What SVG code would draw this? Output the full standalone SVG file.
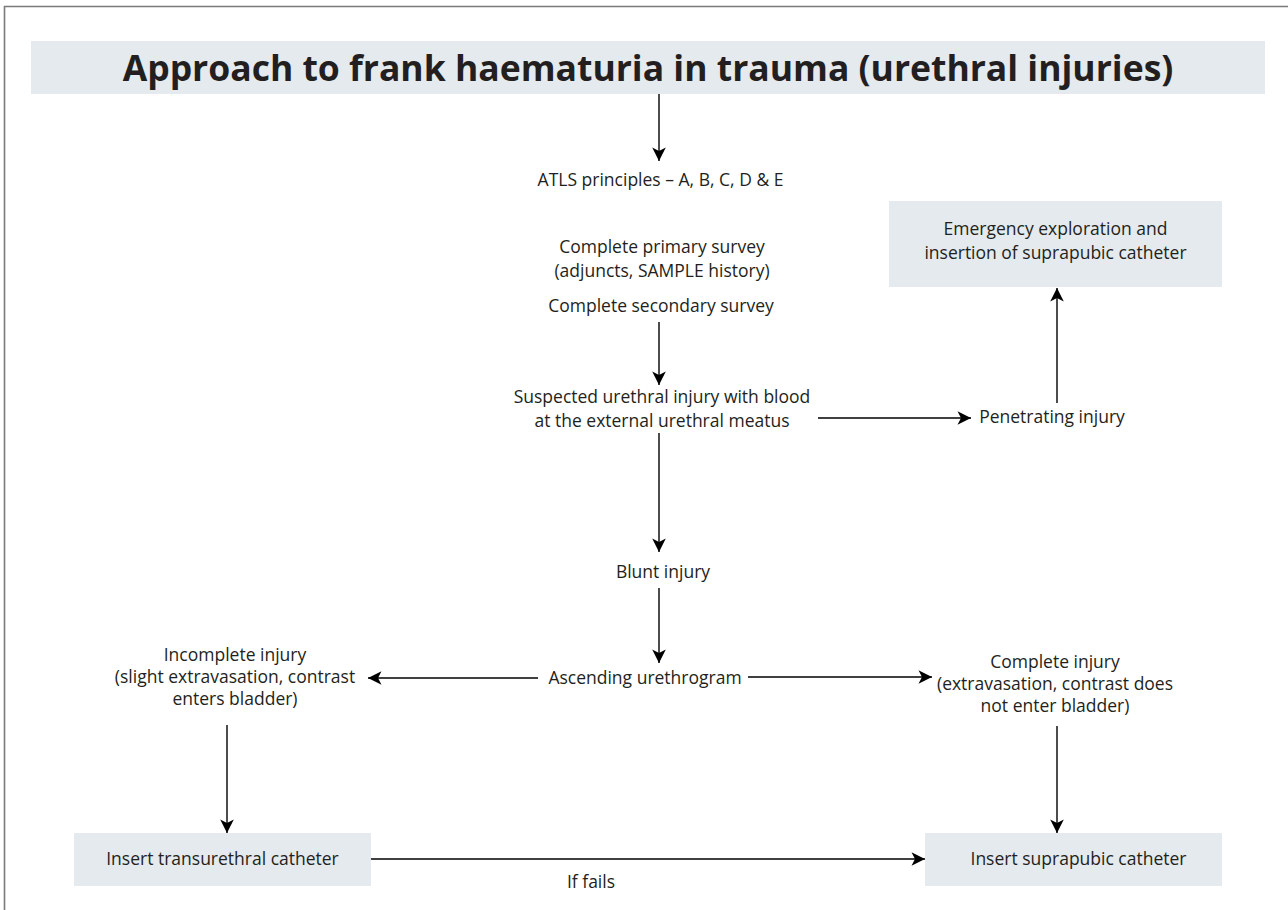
<svg xmlns="http://www.w3.org/2000/svg" width="1288" height="910" viewBox="0 0 1288 910">
  <style>
    .t { font-family: "Open Sans", "Liberation Sans", sans-serif; font-size: 17.5px; fill: #231f20; text-anchor: middle; }
    .title { font-family: "Open Sans", "Liberation Sans", sans-serif; font-size: 35.5px; font-weight: bold; fill: #231f20; text-anchor: middle; }
    .box { fill: #e5eaee; }
    .frame { stroke: #7a7a7a; stroke-width: 1.6; fill: none; }
    .link { stroke: #000; stroke-width: 1.4; fill: none; marker-end: url(#head); }
  </style>
  <defs>
    <marker id="head" markerUnits="userSpaceOnUse" markerWidth="16" markerHeight="16" viewBox="-14 -8 16 16" refX="0" refY="0" orient="auto">
      <path d="M0,0 L-13.5,-6.8 L-10,0 L-13.5,6.8 Z" fill="#000"/>
    </marker>
  </defs>

  <rect width="1288" height="910" fill="#fff"/>
  <!-- page frame: top and left rules -->
  <path class="frame" d="M4.5,910 V6.5 H1288"/>

  <g id="title">
    <rect class="box" x="31" y="41" width="1234" height="53"/>
    <text class="title" x="648" y="80.5">Approach to frank haematuria in trauma (urethral injuries)</text>
  </g>

  <g id="atls">
    <text class="t" x="660.5" y="186">ATLS principles – A, B, C, D &amp; E</text>
  </g>

  <g id="surveys">
    <text class="t" x="662" y="253">Complete primary survey</text>
    <text class="t" x="662" y="277">(adjuncts, SAMPLE history)</text>
    <text class="t" x="661" y="312">Complete secondary survey</text>
  </g>

  <g id="suspected">
    <text class="t" x="662" y="403">Suspected urethral injury with blood</text>
    <text class="t" x="662" y="427">at the external urethral meatus</text>
  </g>

  <g id="penetrating">
    <text class="t" x="1052" y="423">Penetrating injury</text>
  </g>

  <g id="emergency">
    <rect class="box" x="889" y="201" width="333" height="86"/>
    <text class="t" x="1055.5" y="235">Emergency exploration and</text>
    <text class="t" x="1055.5" y="259">insertion of suprapubic catheter</text>
  </g>

  <g id="blunt">
    <text class="t" x="663" y="578">Blunt injury</text>
  </g>

  <g id="urethrogram">
    <text class="t" x="645" y="684">Ascending urethrogram</text>
  </g>

  <g id="incomplete">
    <text class="t" x="235" y="661">Incomplete injury</text>
    <text class="t" x="235" y="683">(slight extravasation, contrast</text>
    <text class="t" x="235" y="705">enters bladder)</text>
  </g>

  <g id="complete">
    <text class="t" x="1055" y="668">Complete injury</text>
    <text class="t" x="1055" y="690">(extravasation, contrast does</text>
    <text class="t" x="1055" y="712">not enter bladder)</text>
  </g>

  <g id="transurethral">
    <rect class="box" x="74" y="833" width="297" height="53"/>
    <text class="t" x="222.5" y="865">Insert transurethral catheter</text>
  </g>

  <g id="suprapubic">
    <rect class="box" x="925" y="833" width="297" height="53"/>
    <text class="t" x="1078.5" y="865">Insert suprapubic catheter</text>
  </g>

  <g id="connectors">
    <line class="link" x1="659" y1="94" x2="659" y2="161"/>
    <line class="link" x1="659" y1="322" x2="659" y2="385"/>
    <line class="link" x1="818" y1="418" x2="971" y2="418"/>
    <line class="link" x1="1057" y1="403" x2="1057" y2="288"/>
    <line class="link" x1="659" y1="433" x2="659" y2="552"/>
    <line class="link" x1="659" y1="588" x2="659" y2="663"/>
    <line class="link" x1="538" y1="678" x2="368" y2="678"/>
    <line class="link" x1="748" y1="677" x2="932" y2="677"/>
    <line class="link" x1="227" y1="725" x2="227" y2="833"/>
    <line class="link" x1="1057" y1="726" x2="1057" y2="833"/>
    <line class="link" x1="371" y1="859" x2="925" y2="859"/>
    <text class="t" x="591" y="888">If fails</text>
  </g>
</svg>
